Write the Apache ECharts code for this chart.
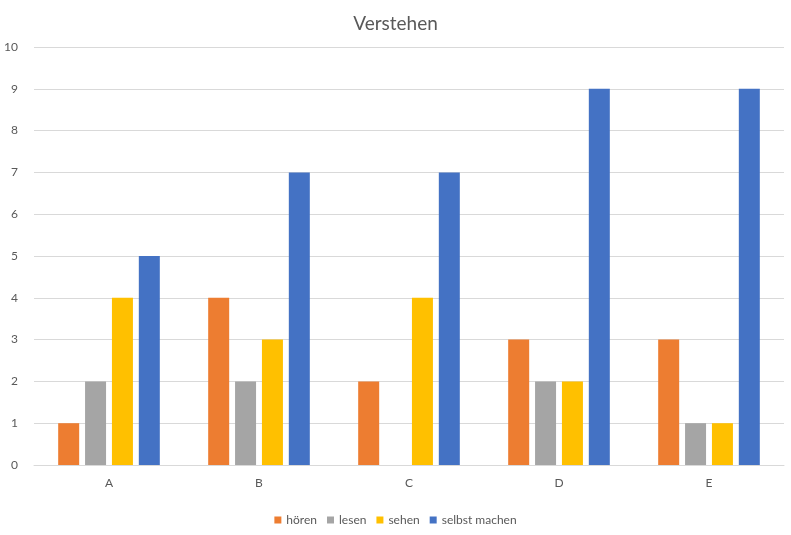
<!DOCTYPE html>
<html>
<head>
<meta charset="utf-8">
<script src="https://cdn.jsdelivr.net/npm/echarts@6/dist/echarts.min.js"></script>
<style>
  html, body { margin: 0; padding: 0; background: #fff; }
  #chart { width: 791px; height: 535px; }
</style>
</head>
<body>
<div id="chart"></div>
<script>
const categories = ['A', 'B', 'C', 'D', 'E']
const hoeren = [1, 4, 2, 3, 3]
const lesen = [2, 2, 0, 2, 1]
const sehen = [4, 3, 4, 2, 1]
const selbstMachen = [5, 7, 7, 9, 9]

const chart = echarts.init(document.getElementById('chart'))

const makeSeries = (name, data, color) => ({
  name: name,
  type: 'bar',
  data: data,
  barWidth: 21,
  barGap: '28%',
  itemStyle: { color: color }
})

chart.setOption({
  animation: false,
  title: {
    text: 'Verstehen',
    left: 'center',
    top: 9,
    textStyle: { fontFamily: 'Lato', fontSize: 19, fontWeight: 'normal', color: '#595959' }
  },
  legend: {
    bottom: 4,
    left: 'center',
    itemWidth: 7,
    itemHeight: 7,
    itemGap: 10,
    icon: 'rect',
    textStyle: { fontFamily: 'Lato', fontSize: 12, color: '#595959' }
  },
  grid: { left: 34, right: 7, top: 47, bottom: 70 },
  xAxis: {
    type: 'category',
    data: categories,
    axisTick: { show: false },
    axisLine: { lineStyle: { color: '#d9d9d9' } },
    axisLabel: { fontFamily: 'Lato', fontSize: 12, color: '#595959', margin: 12 }
  },
  yAxis: {
    type: 'value',
    min: 0,
    max: 10,
    interval: 1,
    axisLine: { show: false },
    axisTick: { show: false },
    splitLine: { lineStyle: { color: '#d9d9d9' } },
    axisLabel: { fontFamily: 'Lato', fontSize: 12, color: '#595959', margin: 16 }
  },
  series: [
    makeSeries('hören', hoeren, '#ED7D31'),
    makeSeries('lesen', lesen, '#A5A5A5'),
    makeSeries('sehen', sehen, '#FFC000'),
    makeSeries('selbst machen', selbstMachen, '#4472C4')
  ]
})
</script>
</body>
</html>
